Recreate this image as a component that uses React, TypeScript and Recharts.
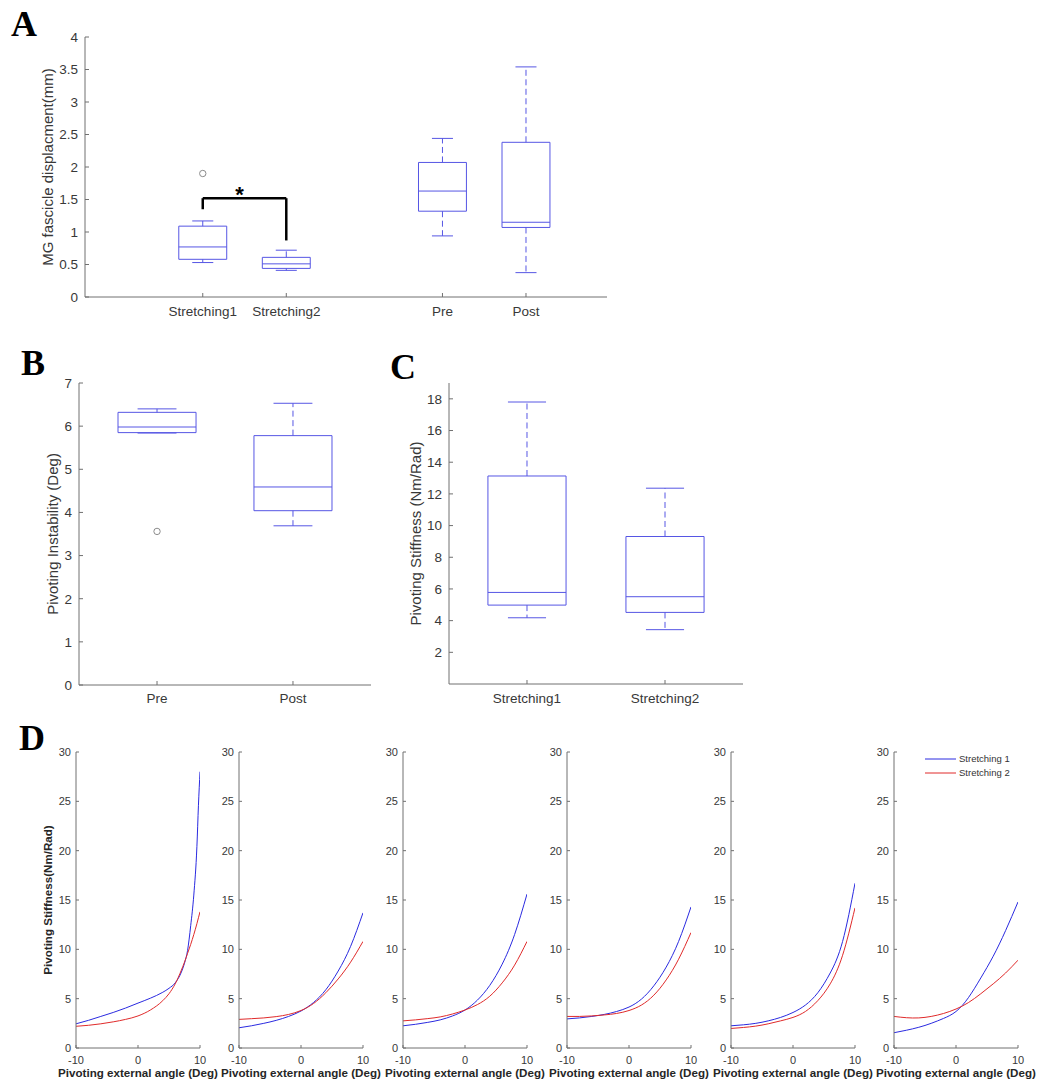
import React from 'react';
import {
  ComposedChart,
  LineChart,
  Line,
  XAxis,
  YAxis,
  Scatter,
  ReferenceArea,
  ReferenceLine,
  ReferenceDot,
  Legend,
} from 'recharts';

// ---------------- Panel A data ----------------
const A_CATEGORIES = ['Stretching1', 'Stretching2', 'Pre', 'Post'];
const A_LOWER = [0.53, 0.41, 0.94, 0.375];
const A_Q1 = [0.58, 0.44, 1.32, 1.07];
const A_MEDIAN = [0.77, 0.51, 1.63, 1.15];
const A_Q3 = [1.09, 0.61, 2.07, 2.38];
const A_UPPER = [1.17, 0.72, 2.44, 3.54];
const A_OUTLIER_CATEGORY = ['Stretching1'];
const A_OUTLIER_VALUE = [1.9];
const A_Y_TICKS = [0, 0.5, 1, 1.5, 2, 2.5, 3, 3.5, 4];

// ---------------- Panel B data ----------------
const B_CATEGORIES = ['Pre', 'Post'];
const B_LOWER = [5.84, 3.69];
const B_Q1 = [5.85, 4.04];
const B_MEDIAN = [5.98, 4.59];
const B_Q3 = [6.32, 5.78];
const B_UPPER = [6.4, 6.53];
const B_OUTLIER_CATEGORY = ['Pre'];
const B_OUTLIER_VALUE = [3.56];
const B_Y_TICKS = [0, 1, 2, 3, 4, 5, 6, 7];

// ---------------- Panel C data ----------------
const C_CATEGORIES = ['Stretching1', 'Stretching2'];
const C_LOWER = [4.18, 3.43];
const C_Q1 = [4.98, 4.52];
const C_MEDIAN = [5.78, 5.51];
const C_Q3 = [13.13, 9.31];
const C_UPPER = [17.8, 12.36];
const C_Y_TICKS = [2, 4, 6, 8, 10, 12, 14, 16, 18];

// ---------------- Panel D data ----------------
const D_X_TICKS = [-10, 0, 10];
const D_Y_TICKS = [0, 5, 10, 15, 20, 25, 30];
const D1_ANGLES = [-10, -8, -6, -4, -2, 0, 2, 4, 5, 6, 7, 7.5, 8, 8.5, 9, 9.5, 9.75, 10];
const D1_STRETCHING1 = [2.45, 2.8, 3.2, 3.6, 4.05, 4.55, 5.05, 5.65, 6.05, 6.6, 7.7, 8.6, 9.9, 12.4, 15.5, 20.4, 24.6, 28.0];
const D1_STRETCHING2 = [2.2, 2.3, 2.45, 2.65, 2.9, 3.25, 3.85, 4.8, 5.5, 6.5, 7.9, 8.7, 9.6, 10.5, 11.5, 12.6, 13.2, 13.8];
const D_ANGLES = [-10, -8, -6, -4, -2, 0, 2, 4, 6, 8, 10];
const D2_STRETCHING1 = [2.05, 2.25, 2.5, 2.8, 3.2, 3.75, 4.6, 5.9, 7.8, 10.3, 13.7];
const D2_STRETCHING2 = [2.9, 2.97, 3.05, 3.18, 3.4, 3.8, 4.5, 5.6, 7.0, 8.7, 10.8];
const D3_STRETCHING1 = [2.25, 2.4, 2.6, 2.85, 3.25, 3.85, 4.85, 6.35, 8.5, 11.5, 15.6];
const D3_STRETCHING2 = [2.75, 2.85, 2.98, 3.15, 3.45, 3.85, 4.4, 5.25, 6.6, 8.4, 10.8];
const D4_STRETCHING1 = [2.95, 3.05, 3.2, 3.4, 3.7, 4.15, 4.95, 6.3, 8.2, 10.8, 14.3];
const D4_STRETCHING2 = [3.2, 3.2, 3.25, 3.35, 3.5, 3.8, 4.35, 5.35, 6.9, 9.0, 11.7];
const D5_STRETCHING1 = [2.25, 2.35, 2.5, 2.75, 3.1, 3.6, 4.35, 5.6, 7.6, 10.8, 16.7];
const D5_STRETCHING2 = [1.98, 2.08, 2.22, 2.45, 2.75, 3.1, 3.7, 4.8, 6.5, 9.4, 14.2];
const D6_STRETCHING1 = [1.55, 1.8, 2.1, 2.5, 3.0, 3.7, 5.1, 7.1, 9.3, 11.9, 14.8];
const D6_STRETCHING2 = [3.2, 3.07, 3.05, 3.2, 3.5, 3.95, 4.6, 5.5, 6.5, 7.6, 8.9];

// ---------------- Styles / layout ----------------
const FONT = '"Liberation Sans", Arial, Helvetica, sans-serif';
const SERIF = '"Liberation Serif", "Times New Roman", serif';
const BOX_COLOR = '#5656e4';
const AXIS_COLOR = '#707070';
const TEXT_COLOR = '#383838';
const BLUE = '#2a2ae0';
const RED = '#e02a2a';
const DASH = '6 3.5';

const A_POSITIONS = [1, 2, 3.87, 4.87];
const BC_POSITIONS = [1, 2];

type Stats = { lower: number[]; q1: number[]; median: number[]; q3: number[]; upper: number[] };

function boxElements(key: string, pos: number[], s: Stats, halfW: number, capHalf: number) {
  const els: React.ReactNode[] = [];
  pos.forEach((p, i) => {
    els.push(
      <ReferenceLine
        key={`${key}-wu${i}`}
        segment={[{ x: p, y: s.q3[i] }, { x: p, y: s.upper[i] }]}
        stroke={BOX_COLOR}
        strokeWidth={1}
        strokeDasharray={DASH}
      />,
      <ReferenceLine
        key={`${key}-wl${i}`}
        segment={[{ x: p, y: s.q1[i] }, { x: p, y: s.lower[i] }]}
        stroke={BOX_COLOR}
        strokeWidth={1}
        strokeDasharray={DASH}
      />,
      <ReferenceLine
        key={`${key}-cu${i}`}
        segment={[{ x: p - capHalf, y: s.upper[i] }, { x: p + capHalf, y: s.upper[i] }]}
        stroke={BOX_COLOR}
        strokeWidth={1}
      />,
      <ReferenceLine
        key={`${key}-cl${i}`}
        segment={[{ x: p - capHalf, y: s.lower[i] }, { x: p + capHalf, y: s.lower[i] }]}
        stroke={BOX_COLOR}
        strokeWidth={1}
      />,
      <ReferenceArea
        key={`${key}-box${i}`}
        x1={p - halfW}
        x2={p + halfW}
        y1={s.q1[i]}
        y2={s.q3[i]}
        fill="none"
        fillOpacity={0}
        stroke={BOX_COLOR}
        strokeWidth={1}
      />,
      <ReferenceLine
        key={`${key}-med${i}`}
        segment={[{ x: p - halfW, y: s.median[i] }, { x: p + halfW, y: s.median[i] }]}
        stroke={BOX_COLOR}
        strokeWidth={1}
      />
    );
  });
  return els;
}

const outlierShape = (p: any) => (
  <circle cx={p.cx} cy={p.cy} r={3.2} fill="none" stroke="#8c8c8c" strokeWidth={1} />
);

const tickStyle = { fill: TEXT_COLOR, fontSize: 13.5, fontFamily: FONT };
const labelStyle = { textAnchor: 'middle' as const, fill: TEXT_COLOR, fontSize: 15, fontFamily: FONT };

function PanelA() {
  const stats: Stats = { lower: A_LOWER, q1: A_Q1, median: A_MEDIAN, q3: A_Q3, upper: A_UPPER };
  const outliers = A_OUTLIER_CATEGORY.map((c, i) => ({
    x: A_POSITIONS[A_CATEGORIES.indexOf(c)],
    y: A_OUTLIER_VALUE[i],
  }));
  const p1 = A_POSITIONS[0];
  const p2 = A_POSITIONS[1];
  return (
    <ComposedChart width={620} height={330} margin={{ top: 37, right: 13, bottom: 0, left: 0 }}>
      <XAxis
        type="number"
        dataKey="x"
        domain={[-0.41, 5.84]}
        ticks={A_POSITIONS}
        interval={0}
        allowDataOverflow
        tickFormatter={(v: number) => A_CATEGORIES[A_POSITIONS.indexOf(v)] ?? ''}
        height={33}
        axisLine={{ stroke: AXIS_COLOR }}
        tickLine={{ stroke: AXIS_COLOR }}
        tick={tickStyle}
        tickSize={-4}
        tickMargin={13}
      />
      <YAxis
        type="number"
        domain={[0, 4]}
        ticks={A_Y_TICKS}
        interval={0}
        allowDataOverflow
        width={85}
        axisLine={{ stroke: AXIS_COLOR }}
        tickLine={{ stroke: AXIS_COLOR }}
        tick={tickStyle}
        tickSize={-4}
        tickMargin={11}
        label={{ value: 'MG fascicle displacment(mm)', angle: -90, position: 'insideLeft', offset: 48, style: labelStyle }}
      />
      {boxElements('a', A_POSITIONS, stats, 0.287, 0.126)}
      <ReferenceLine segment={[{ x: p1, y: 1.35 }, { x: p1, y: 1.52 }]} stroke="#000" strokeWidth={2.5} />
      <ReferenceLine segment={[{ x: p1, y: 1.52 }, { x: p2, y: 1.52 }]} stroke="#000" strokeWidth={2.5} />
      <ReferenceLine segment={[{ x: p2, y: 1.52 }, { x: p2, y: 0.87 }]} stroke="#000" strokeWidth={2.5} />
      <ReferenceDot
        x={1.44}
        y={1.58}
        r={1}
        shape={(p: any) => (
          <text x={p.cx} y={p.cy + 8} textAnchor="middle" fontSize={22} fontWeight="bold" fontFamily={FONT} fill="#000">
            *
          </text>
        )}
      />
      <Scatter data={outliers} dataKey="y" shape={outlierShape} isAnimationActive={false} />
    </ComposedChart>
  );
}

function PanelB() {
  const stats: Stats = { lower: B_LOWER, q1: B_Q1, median: B_MEDIAN, q3: B_Q3, upper: B_UPPER };
  const outliers = B_OUTLIER_CATEGORY.map((c, i) => ({
    x: BC_POSITIONS[B_CATEGORIES.indexOf(c)],
    y: B_OUTLIER_VALUE[i],
  }));
  return (
    <ComposedChart width={380} height={390} margin={{ top: 53, right: 9, bottom: 0, left: 0 }}>
      <XAxis
        type="number"
        dataKey="x"
        domain={[0.426, 2.574]}
        ticks={BC_POSITIONS}
        interval={0}
        allowDataOverflow
        tickFormatter={(v: number) => B_CATEGORIES[BC_POSITIONS.indexOf(v)] ?? ''}
        height={35}
        axisLine={{ stroke: AXIS_COLOR }}
        tickLine={{ stroke: AXIS_COLOR }}
        tick={tickStyle}
        tickSize={-4}
        tickMargin={12}
      />
      <YAxis
        type="number"
        domain={[0, 7]}
        ticks={B_Y_TICKS}
        interval={0}
        allowDataOverflow
        width={79}
        axisLine={{ stroke: AXIS_COLOR }}
        tickLine={{ stroke: AXIS_COLOR }}
        tick={tickStyle}
        tickSize={-4}
        tickMargin={11}
        label={{ value: 'Pivoting Instability (Deg)', angle: -90, position: 'insideLeft', offset: 53, style: labelStyle }}
      />
      {boxElements('b', BC_POSITIONS, stats, 0.287, 0.143)}
      <Scatter data={outliers} dataKey="y" shape={outlierShape} isAnimationActive={false} />
    </ComposedChart>
  );
}

function PanelC() {
  const stats: Stats = { lower: C_LOWER, q1: C_Q1, median: C_MEDIAN, q3: C_Q3, upper: C_UPPER };
  return (
    <ComposedChart width={380} height={390} margin={{ top: 53, right: 17, bottom: 0, left: 0 }}>
      <XAxis
        type="number"
        dataKey="x"
        domain={[0.435, 2.565]}
        ticks={BC_POSITIONS}
        interval={0}
        allowDataOverflow
        tickFormatter={(v: number) => C_CATEGORIES[BC_POSITIONS.indexOf(v)] ?? ''}
        height={36}
        axisLine={{ stroke: AXIS_COLOR }}
        tickLine={{ stroke: AXIS_COLOR }}
        tick={tickStyle}
        tickSize={-4}
        tickMargin={13}
      />
      <YAxis
        type="number"
        domain={[0, 19]}
        ticks={C_Y_TICKS}
        interval={0}
        allowDataOverflow
        width={69}
        axisLine={{ stroke: AXIS_COLOR }}
        tickLine={{ stroke: AXIS_COLOR }}
        tick={tickStyle}
        tickSize={-4}
        tickMargin={11}
        label={{ value: 'Pivoting Stiffness (Nm/Rad)', angle: -90, position: 'insideLeft', offset: 36, style: labelStyle }}
      />
      {boxElements('c', BC_POSITIONS, stats, 0.283, 0.138)}
      <Scatter data={[]} dataKey="y" shape={outlierShape} isAnimationActive={false} />
    </ComposedChart>
  );
}

const renderLegend = (props: any) => (
  <div style={{ fontFamily: FONT, fontSize: 9.5, color: '#333' }}>
    {(props.payload || []).map((e: any) => (
      <div key={e.value} style={{ display: 'flex', alignItems: 'center', height: 13.7 }}>
        <svg width={31} height={4} style={{ display: 'block' }}>
          <line x1={0} y1={2} x2={31} y2={2} stroke={e.color} strokeWidth={1} />
        </svg>
        <span style={{ marginLeft: 3, lineHeight: '13.7px' }}>{e.value}</span>
      </div>
    ))}
  </div>
);

type DPanel = { angles: number[]; s1: number[]; s2: number[] };
const D_PANELS: DPanel[] = [
  { angles: D1_ANGLES, s1: D1_STRETCHING1, s2: D1_STRETCHING2 },
  { angles: D_ANGLES, s1: D2_STRETCHING1, s2: D2_STRETCHING2 },
  { angles: D_ANGLES, s1: D3_STRETCHING1, s2: D3_STRETCHING2 },
  { angles: D_ANGLES, s1: D4_STRETCHING1, s2: D4_STRETCHING2 },
  { angles: D_ANGLES, s1: D5_STRETCHING1, s2: D5_STRETCHING2 },
  { angles: D_ANGLES, s1: D6_STRETCHING1, s2: D6_STRETCHING2 },
];
const D_PLOT_LEFTS = [76, 239, 403, 567, 731, 894];
const D_PLOT_WIDTH = 124;
const D_RIGHT_PAD = 40;

function PanelD({ index }: { index: number }) {
  const panel = D_PANELS[index];
  const first = index === 0;
  const last = index === D_PANELS.length - 1;
  const yw = first ? 76 : 44;
  const s1 = panel.angles.map((x, i) => ({ x, y: panel.s1[i] }));
  const s2 = panel.angles.map((x, i) => ({ x, y: panel.s2[i] }));
  const dTick = { fill: TEXT_COLOR, fontSize: 11, fontFamily: FONT };
  const dLabel = { textAnchor: 'middle' as const, fill: '#262626', fontSize: 11.6, fontWeight: 'bold' as const, fontFamily: FONT };
  const curve = first ? 'monotone' : 'natural';
  return (
    <LineChart width={yw + D_PLOT_WIDTH + D_RIGHT_PAD} height={362} margin={{ top: 32, right: D_RIGHT_PAD, bottom: 0, left: 0 }}>
      <XAxis
        type="number"
        dataKey="x"
        domain={[-10, 10]}
        ticks={D_X_TICKS}
        interval={0}
        allowDataOverflow
        height={34}
        axisLine={{ stroke: AXIS_COLOR }}
        tickLine={{ stroke: AXIS_COLOR }}
        tick={dTick}
        tickSize={-3}
        tickMargin={11}
        label={{ value: 'Pivoting external angle (Deg)', position: 'insideBottom', offset: 5, style: dLabel }}
      />
      <YAxis
        type="number"
        domain={[0, 30]}
        ticks={D_Y_TICKS}
        interval={0}
        allowDataOverflow
        width={yw}
        axisLine={{ stroke: AXIS_COLOR }}
        tickLine={{ stroke: AXIS_COLOR }}
        tick={dTick}
        tickSize={-3}
        tickMargin={8}
        label={
          first
            ? { value: 'Pivoting Stiffness(Nm/Rad)', angle: -90, position: 'insideLeft', offset: 48, style: dLabel }
            : undefined
        }
      />
      <Line data={s1} dataKey="y" name="Stretching 1" type={curve} stroke={BLUE} strokeWidth={1} dot={false} isAnimationActive={false} />
      <Line data={s2} dataKey="y" name="Stretching 2" type={curve} stroke={RED} strokeWidth={1} dot={false} isAnimationActive={false} />
      {last && (
        <Legend
          layout="vertical"
          align="center"
          verticalAlign="middle"
          content={renderLegend}
          wrapperStyle={{ position: 'absolute', left: 75, top: 32, width: 'auto', height: 'auto' }}
        />
      )}
    </LineChart>
  );
}

export default function App() {
  return (
    <div style={{ position: 'absolute', left: 0, top: 0, width: 1052, height: 1082, background: '#fff', overflow: 'hidden' }}>
      <svg width={1052} height={1082} style={{ position: 'absolute', left: 0, top: 0 }}>
        <g fontFamily={SERIF} fontWeight="bold" fontSize={36} fill="#000">
          <text x={11} y={36}>A</text>
          <text x={21} y={375}>B</text>
          <text x={390} y={379}>C</text>
          <text x={19} y={750}>D</text>
        </g>
      </svg>
      <div style={{ position: 'absolute', left: 0, top: 0 }}>
        <PanelA />
      </div>
      <div style={{ position: 'absolute', left: 0, top: 330 }}>
        <PanelB />
      </div>
      <div style={{ position: 'absolute', left: 380, top: 330 }}>
        <PanelC />
      </div>
      {D_PANELS.map((_, i) => (
        <div
          key={i}
          style={{ position: 'absolute', left: D_PLOT_LEFTS[i] - (i === 0 ? 76 : 44), top: 720 }}
        >
          <PanelD index={i} />
        </div>
      ))}
    </div>
  );
}
